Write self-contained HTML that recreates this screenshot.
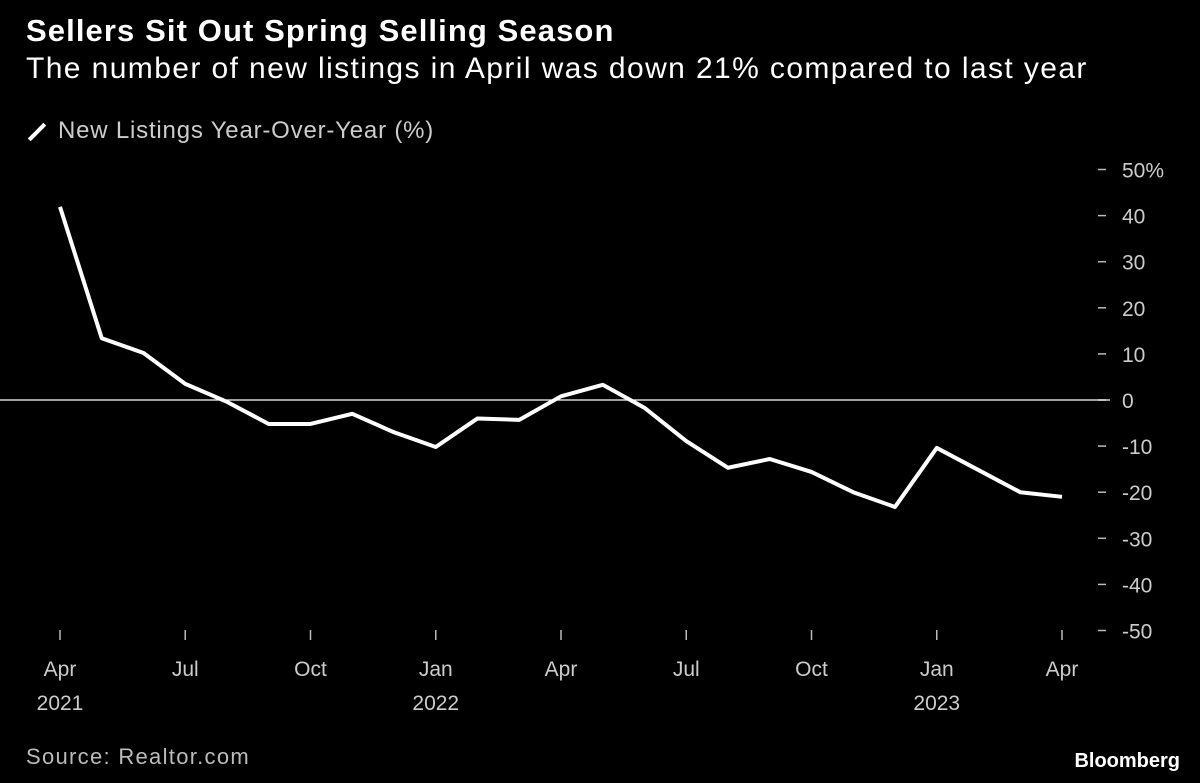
<!DOCTYPE html>
<html><head><meta charset="utf-8"><style>
html,body{margin:0;padding:0;background:#000;}
body{width:1200px;height:783px;overflow:hidden;font-family:"Liberation Sans",sans-serif;color:#fff;position:relative;}
.t{position:absolute;white-space:nowrap;}
</style></head><body>
<div class="t" style="left:26px;top:13px;font-size:31px;font-weight:bold;letter-spacing:1.1px;">Sellers Sit Out Spring Selling Season</div>
<div class="t" style="left:26px;top:52px;font-size:30px;letter-spacing:1.4px;">The number of new listings in April was down 21% compared to last year</div>
<div class="t" style="left:30px;top:117px;font-size:24px;color:#ccc;letter-spacing:0.8px;"><span style="display:inline-block;width:22px;height:4px;background:#fff;transform:rotate(-45deg);vertical-align:middle;margin-right:10px;margin-left:-4px;"></span>New Listings Year-Over-Year (%)</div>
<svg id="chart" width="1200" height="783" style="position:absolute;left:0;top:0;"></svg>
<div class="t" style="left:26px;top:744px;font-size:22px;color:#bbb;letter-spacing:1.3px;">Source: Realtor.com</div>
<div class="t" style="right:20px;top:750px;font-size:20px;font-weight:bold;">Bloomberg</div>
<script>
const values=[41.9,13.4,10.2,3.5,-0.4,-5.2,-5.2,-3,-7,-10.2,-4,-4.3,0.8,3.3,-1.7,-8.9,-14.7,-12.8,-15.6,-20,-23.2,-10.4,-15.2,-20,-21];
const yTicks=[50,40,30,20,10,0,-10,-20,-30,-40,-50];
const yLabels=["50%","40","30","20","10","0","-10","-20","-30","-40","-50"];
const xTickMonths=[0,3,6,9,12,15,18,21,24];
const xLabels=["Apr","Jul","Oct","Jan","Apr","Jul","Oct","Jan","Apr"];
const xYears={0:"2021",9:"2022",21:"2023"};
const NS="http://www.w3.org/2000/svg",svg=document.getElementById('chart');
const x=i=>60+i*41.75, y=v=>400-v*4.61;
function mk(t,a){const e=document.createElementNS(NS,t);for(const k in a)e.setAttribute(k,a[k]);svg.appendChild(e);return e;}
yTicks.forEach((v,i)=>{
 const l=mk('line',{x1:1098,x2:1106,y1:y(v),y2:y(v),stroke:'#bbb','stroke-width':1.5});
 
 
 const t=mk('text',{x:1122,y:y(v)+8,fill:'#ccc','font-size':21,'font-family':'Liberation Sans, sans-serif'});
 t.textContent=yLabels[i];
 
 
});
const z=mk('line',{x1:0,x2:1110,y1:y(0),y2:y(0),stroke:'#fff','stroke-width':1.2});


xTickMonths.forEach((m,i)=>{
 const l=mk('line',{x1:x(m),x2:x(m),y1:630,y2:640,stroke:'#bbb','stroke-width':1.5});
 
 
 const t=mk('text',{x:x(m),y:676,fill:'#ccc','font-size':21,'text-anchor':'middle','font-family':'Liberation Sans, sans-serif'});
 t.textContent=xLabels[i];
 
 
 if(xYears[m]){const yl=mk('text',{x:x(m),y:710,fill:'#ccc','font-size':21,'text-anchor':'middle','font-family':'Liberation Sans, sans-serif'});
  yl.textContent=xYears[m];
  
  }
});
const p=mk('polyline',{points:values.map((v,i)=>x(i)+','+y(v)).join(' '),fill:'none',stroke:'#fff','stroke-width':4,'stroke-linejoin':'round'});


</script>
</body></html>
